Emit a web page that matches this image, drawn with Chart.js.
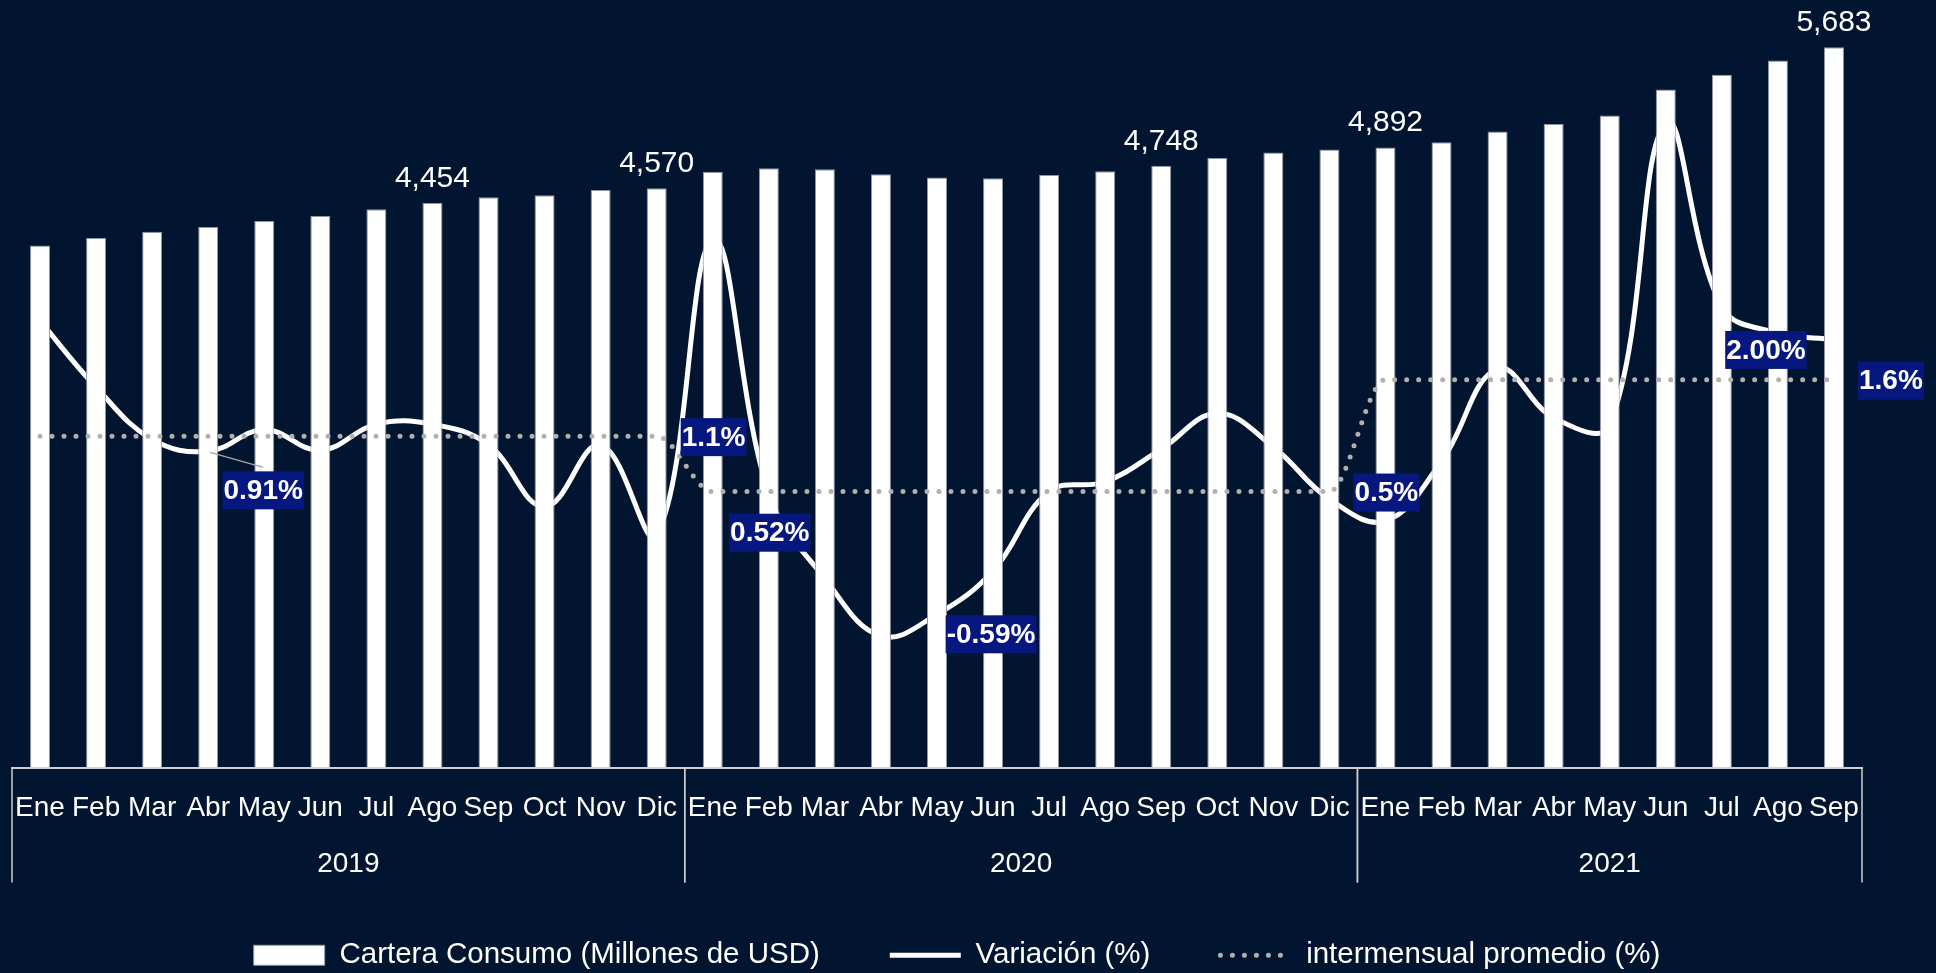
<!DOCTYPE html>
<html lang="es">
<head>
<meta charset="utf-8">
<title>Cartera Consumo</title>
<script src="https://cdn.jsdelivr.net/npm/chart.js@4.4.1/dist/chart.umd.min.js"></script>
<style>
  html, body { margin: 0; padding: 0; background: #021530; }
  #wrap { width: 1936px; height: 973px; }
</style>
</head>
<body>
<div id="wrap"><canvas id="chart" width="1936" height="973"></canvas></div>
<script>
/* =========================
   DATA
========================= */

const months = ["Ene", "Feb", "Mar", "Abr", "May", "Jun", "Jul", "Ago", "Sep", "Oct", "Nov", "Dic"];
const years = ["2019", "2020", "2021"];
const monthsPerYear = [12, 12, 9];

// Cartera Consumo (Millones de USD)
const cartera = [
  4118, 4178, 4226, 4265, 4312, 4352, 4404, 4454, 4499, 4514, 4557, 4570,
  4701, 4727, 4719, 4680, 4654, 4648, 4675, 4704, 4748, 4809, 4853, 4875,
  4892, 4932, 5017, 5077, 5143, 5350, 5466, 5577, 5683
];

// Variación mensual (%)
const variacion = [
  2.11, 1.50, 1.02, 0.91, 1.11, 0.92, 1.16, 1.16, 0.97, 0.40, 0.97, 0.14,
  2.86, 0.52, -0.26, -0.79, -0.59, -0.19, 0.54, 0.63, 0.93, 1.26, 0.95, 0.47,
  0.27, 0.82, 1.67, 1.22, 1.15, 3.93, 2.24, 2.00, 1.94
];

// intermensual promedio por año (%)
const promedio = [
  1.05, 1.05, 1.05, 1.05, 1.05, 1.05, 1.05, 1.05, 1.05, 1.05, 1.05, 1.05,
  0.54, 0.54, 0.54, 0.54, 0.54, 0.54, 0.54, 0.54, 0.54, 0.54, 0.54, 0.54,
  1.57, 1.57, 1.57, 1.57, 1.57, 1.57, 1.57, 1.57, 1.57
];

// which points carry a value label
const barLabelIdx = [7, 11, 20, 24, 32];
const varLabelIdx = [3, 13, 16, 31];
const avgLabelIdx = [11, 23, 32];

const labels = [];
years.forEach((yr, k) => {
  months.slice(0, monthsPerYear[k]).forEach(m => labels.push(m));
});

/* =========================
   STYLE
========================= */

const FONT = "'Liberation Sans', Arial, Helvetica, sans-serif";
const NAVY = "#06187f";
const DOT = "#b3afaf";
const AXIS = "#cfcfcf";

// manual placement of the variation labels (offset from the point, px)
const varLabelPos = {
  3: { dx: 55, dy: 39, leader: true },
  13: { dx: 1, dy: 39 },
  16: { dx: 54, dy: 20 },
  31: { dx: -12, dy: 17 }
};

Chart.defaults.font.family = FONT;

function tag(ctx, text, x, cy, alignLeft) {
  ctx.font = "bold 28px " + FONT;
  const w = ctx.measureText(text).width + 2;
  const h = 38;
  const cx = alignLeft ? x + w / 2 : x;
  ctx.fillStyle = NAVY;
  ctx.fillRect(cx - w / 2, cy - h / 2, w, h);
  ctx.fillStyle = "#ffffff";
  ctx.textAlign = "center";
  ctx.textBaseline = "middle";
  ctx.fillText(text, cx, cy + 1);
}

/* =========================
   PLUGINS
========================= */

const yearAxis = {
  id: "yearAxis",
  afterDraw(chart) {
    const x = chart.scales.x;
    const ctx = chart.ctx;
    const half = (x.getPixelForValue(1) - x.getPixelForValue(0)) / 2;
    ctx.save();
    ctx.strokeStyle = AXIS;
    ctx.lineWidth = 1.5;
    ctx.fillStyle = "#ffffff";
    ctx.font = "28px " + FONT;
    ctx.textAlign = "center";
    ctx.textBaseline = "middle";
    let start = 0;
    years.forEach((yr, k) => {
      const end = start + monthsPerYear[k] - 1;
      const left = x.getPixelForValue(start) - half;
      const right = x.getPixelForValue(end) + half;
      [left, right].forEach(px => {
        ctx.beginPath();
        ctx.moveTo(px, x.top);
        ctx.lineTo(px, x.top + 115);
        ctx.stroke();
      });
      ctx.fillText(yr, (left + right) / 2, x.top + 97);
      start = end + 1;
    });
    ctx.restore();
  }
};

const dataLabels = {
  id: "dataLabels",
  afterDatasetsDraw(chart) {
    const ctx = chart.ctx;
    const bars = chart.getDatasetMeta(0).data;
    const varPts = chart.getDatasetMeta(1).data;
    const avgPts = chart.getDatasetMeta(2).data;
    ctx.save();

    ctx.font = "30px " + FONT;
    ctx.fillStyle = "#ffffff";
    ctx.textAlign = "center";
    ctx.textBaseline = "alphabetic";
    barLabelIdx.forEach(i => {
      ctx.fillText(cartera[i].toLocaleString("en-US"), bars[i].x, bars[i].y - 16);
    });

    varLabelIdx.forEach(i => {
      const p = varPts[i];
      const pos = varLabelPos[i];
      const cx = p.x + pos.dx, cy = p.y + pos.dy;
      if (pos.leader) {
        ctx.strokeStyle = "#a6a6a6";
        ctx.lineWidth = 1.5;
        ctx.beginPath();
        ctx.moveTo(p.x + 2, p.y + 1);
        ctx.lineTo(cx, cy - 23);
        ctx.stroke();
      }
      tag(ctx, variacion[i].toFixed(2) + "%", cx, cy, false);
    });

    avgLabelIdx.forEach(i => {
      const p = avgPts[i];
      tag(ctx, (Math.round(promedio[i] * 10) / 10).toFixed(1) + "%", p.x + 24, p.y + 1, true);
    });

    ctx.restore();
  }
};

// nudge the legend row to the right, as in the original layout
const legendShift = {
  id: "legendShift",
  afterLayout(chart) {
    chart.legend.left += 20;
    chart.legend.right += 20;
  }
};

/* =========================
   CHART
========================= */

const chart = new Chart(document.getElementById("chart"), {
  data: {
    labels: labels,
    datasets: [
      {
        type: "bar",
        label: "Cartera Consumo (Millones de USD)",
        data: cartera,
        yAxisID: "y",
        backgroundColor: "#ffffff",
        borderColor: "#8d95a8",
        borderWidth: 1,
        barPercentage: 0.357,
        categoryPercentage: 1,
        order: 1
      },
      {
        type: "line",
        label: "Variación (%)",
        data: variacion,
        yAxisID: "y1",
        borderColor: "#ffffff",
        borderWidth: 5,
        tension: 0.4,
        pointRadius: 0,
        order: 2
      },
      {
        type: "line",
        label: "intermensual promedio (%)",
        data: promedio,
        yAxisID: "y1",
        borderColor: DOT,
        borderWidth: 5,
        borderDash: [0, 12],
        borderCapStyle: "round",
        cubicInterpolationMode: "monotone",
        pointRadius: 0,
        order: 0
      }
    ]
  },
  options: {
    responsive: false,
    animation: false,
    layout: { padding: { left: 12, right: 74, top: 7, bottom: -7 } },
    plugins: {
      tooltip: { enabled: false },
      legend: {
        position: "bottom",
        labels: {
          color: "#ffffff",
          font: { family: FONT, size: 29.5 },
          usePointStyle: true,
          pointStyleWidth: 71,
          boxHeight: 20,
          padding: 70,
          sort: (a, b) => a.datasetIndex - b.datasetIndex,
          generateLabels: (c) => {
            const items = Chart.defaults.plugins.legend.labels.generateLabels(c);
            items.forEach(it => {
              const ds = c.data.datasets[it.datasetIndex];
              const isBar = ds.type === "bar";
              it.pointStyle = isBar ? "rect" : "line";
              it.fillStyle = isBar ? ds.backgroundColor : "rgba(0,0,0,0)";
              it.strokeStyle = ds.borderColor;
              it.lineWidth = ds.borderWidth;
              it.lineDash = ds.borderDash || [];
              it.lineCap = ds.borderCapStyle || "butt";
            });
            return items;
          }
        }
      }
    },
    scales: {
      x: {
        grid: { display: false, drawTicks: false },
        border: { display: true, color: AXIS, width: 2 },
        ticks: {
          color: "#ffffff",
          font: { family: FONT, size: 28, lineHeight: 82 / 28 },
          padding: 0,
          autoSkip: false,
          maxRotation: 0
        },
        afterFit: (s) => { s.height = 103; }
      },
      y: { display: false, min: 0, max: 6000 },
      y1: { display: false, min: -2, max: 5 }
    }
  },
  plugins: [yearAxis, dataLabels, legendShift]
});
</script>
</body>
</html>
